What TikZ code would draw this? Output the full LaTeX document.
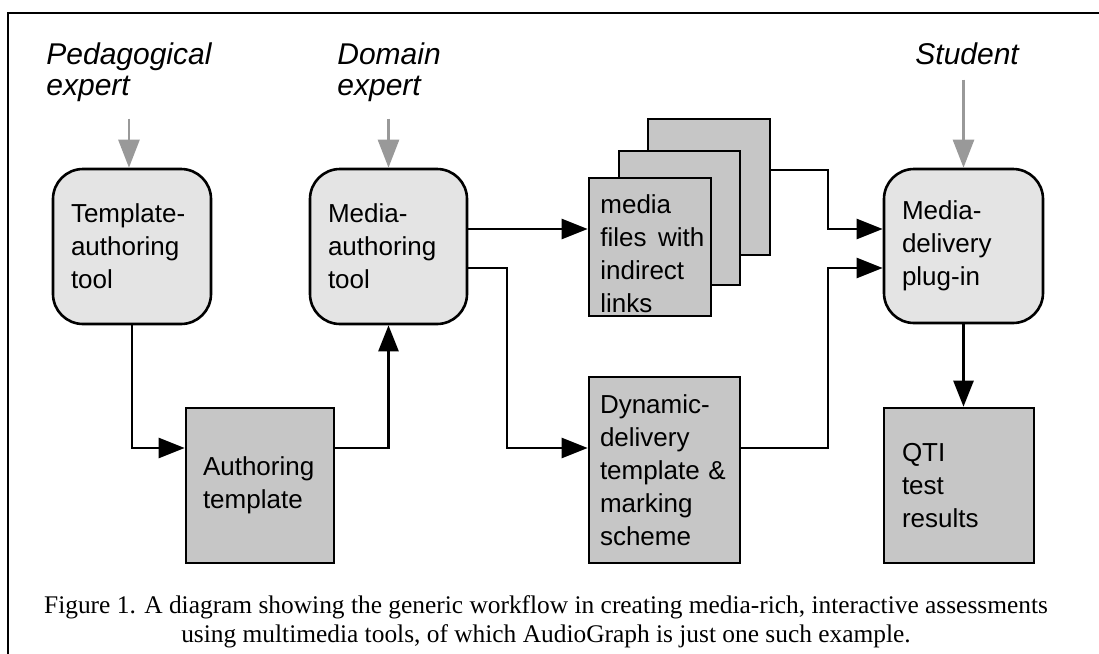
\documentclass[tikz,border=0pt]{standalone}
\usepackage{fontspec}
\setmainfont{Liberation Serif}
\setsansfont{Liberation Sans}
\usetikzlibrary{positioning}
\usetikzlibrary{calc}
\usetikzlibrary{arrows.meta}
\definecolor{toolfill}{RGB}{228,228,228}
\definecolor{docfill}{RGB}{198,198,198}
\definecolor{actorgray}{RGB}{153,153,153}

\begin{document}
\begin{tikzpicture}[x=0.5pt,y=-0.5pt,
    tool/.style={draw, line width=1.3pt, fill=toolfill, rounded corners=15pt, align=left,
        font=\sffamily\fontsize{13}{16.5}\selectfont, inner xsep=9pt, inner ysep=0pt, minimum height=77.5pt},
    doc/.style={draw, line width=1.3pt, fill=docfill, align=left,
        font=\sffamily\fontsize{13}{16.5}\selectfont, inner xsep=9pt, inner ysep=0pt},
    actor/.style={font=\sffamily\itshape\fontsize{15}{15.5}\selectfont, align=left, inner sep=0pt},
    flow/.style={line width=1.3pt, -{Triangle[length=13pt,width=10pt]}},
    feed/.style={line width=1.3pt, draw=actorgray, -{Triangle[length=14pt,width=10.5pt,fill=actorgray]}}]
    \useasboundingbox (0,0) rectangle (1099,654);
    \draw[line width=1pt] (8,654) -- (8,13) -- (1099,13);

    \node[actor, anchor=base west] (ped) at (46,95) {Pedagogical\\expert};
    \node[actor, anchor=base west] (dom) at (337,95) {Domain\\expert};
    \node[actor, anchor=base west] (stu) at (915,64) {Student};

    \node[tool, text width=61pt] (tat) at (132,246.5) {Template-\\authoring\\tool};
    \node[tool, text width=60.5pt] (mat) at (388.5,246.5) {Media-\\authoring\\tool};
    \node[tool, text width=61.5pt, minimum height=77pt] (mdp) at (963.5,246) {Media-\\delivery\\plug-in};

    \node[doc, text width=57pt, inner xsep=8.5pt, minimum height=77.5pt] (atpl) at (260,485.5) {Authoring\\template};
    \node[doc, text width=64.5pt, inner xsep=5.5pt, minimum height=93pt] (ddt) at (664.5,470) {Dynamic-\\delivery\\template \&\\marking\\scheme};
    \node[doc, text width=57pt, minimum height=77.5pt] (qti) at (959,485.5) {QTI\\test\\results};

    \node[doc, inner sep=0pt, minimum width=61pt, minimum height=68pt] (back) at (709,187) {};
    \node[doc, inner sep=0pt, minimum width=60.5pt, minimum height=67pt] (mid) at (679.5,218) {};
    \node[doc, inner sep=0pt, minimum width=61pt, minimum height=69pt] (front) at (650,247) {};
    \node[anchor=base west, align=left, inner sep=0pt, text width=52pt,
        font=\sffamily\fontsize{13}{16.5}\selectfont] (fronttext) at (600,213) {media\\files\hfill with\\indirect\\links};

    \node[anchor=base, align=center, inner sep=0pt, font=\fontsize{12.7}{14.5}\selectfont] (caption) at (546,642)
        {Figure 1. A diagram showing the generic workflow in creating media-rich, interactive assessments\\
         using multimedia tools, of which AudioGraph is just one such example.};

    \coordinate (hirow) at (0,229);
    \coordinate (midrow) at (0,268);
    \coordinate (lowrow) at (0,448);
    \coordinate (splitx) at (507,0);
    \coordinate (joinx) at (828,0);

    \draw[feed, shorten <=8.5pt] (ped.south) -- (ped.south |- tat.north);
    \draw[feed, shorten <=8.5pt] (mat.north |- dom.south) -- (mat.north);
    \draw[feed, shorten <=7.5pt] (mdp.north |- stu.south) -- (mdp.north);

    \draw[flow] (tat.south) |- (atpl.west |- lowrow);
    \draw[flow] (atpl.east |- lowrow) -| (mat.south);
    \draw[flow] (mat.east |- hirow) -- (front.west |- hirow);
    \draw[flow] (mat.east |- midrow) -| (splitx |- lowrow) -- (ddt.west |- lowrow);
    \draw[flow] ([yshift=8.5pt]back.east) -| (joinx |- hirow) -- (mdp.west |- hirow);
    \draw[flow] (ddt.east |- lowrow) -| (joinx |- midrow) -- (mdp.west |- midrow);
    \draw[flow] (mdp.south) -- (mdp.south |- qti.north);
\end{tikzpicture}
\end{document}
